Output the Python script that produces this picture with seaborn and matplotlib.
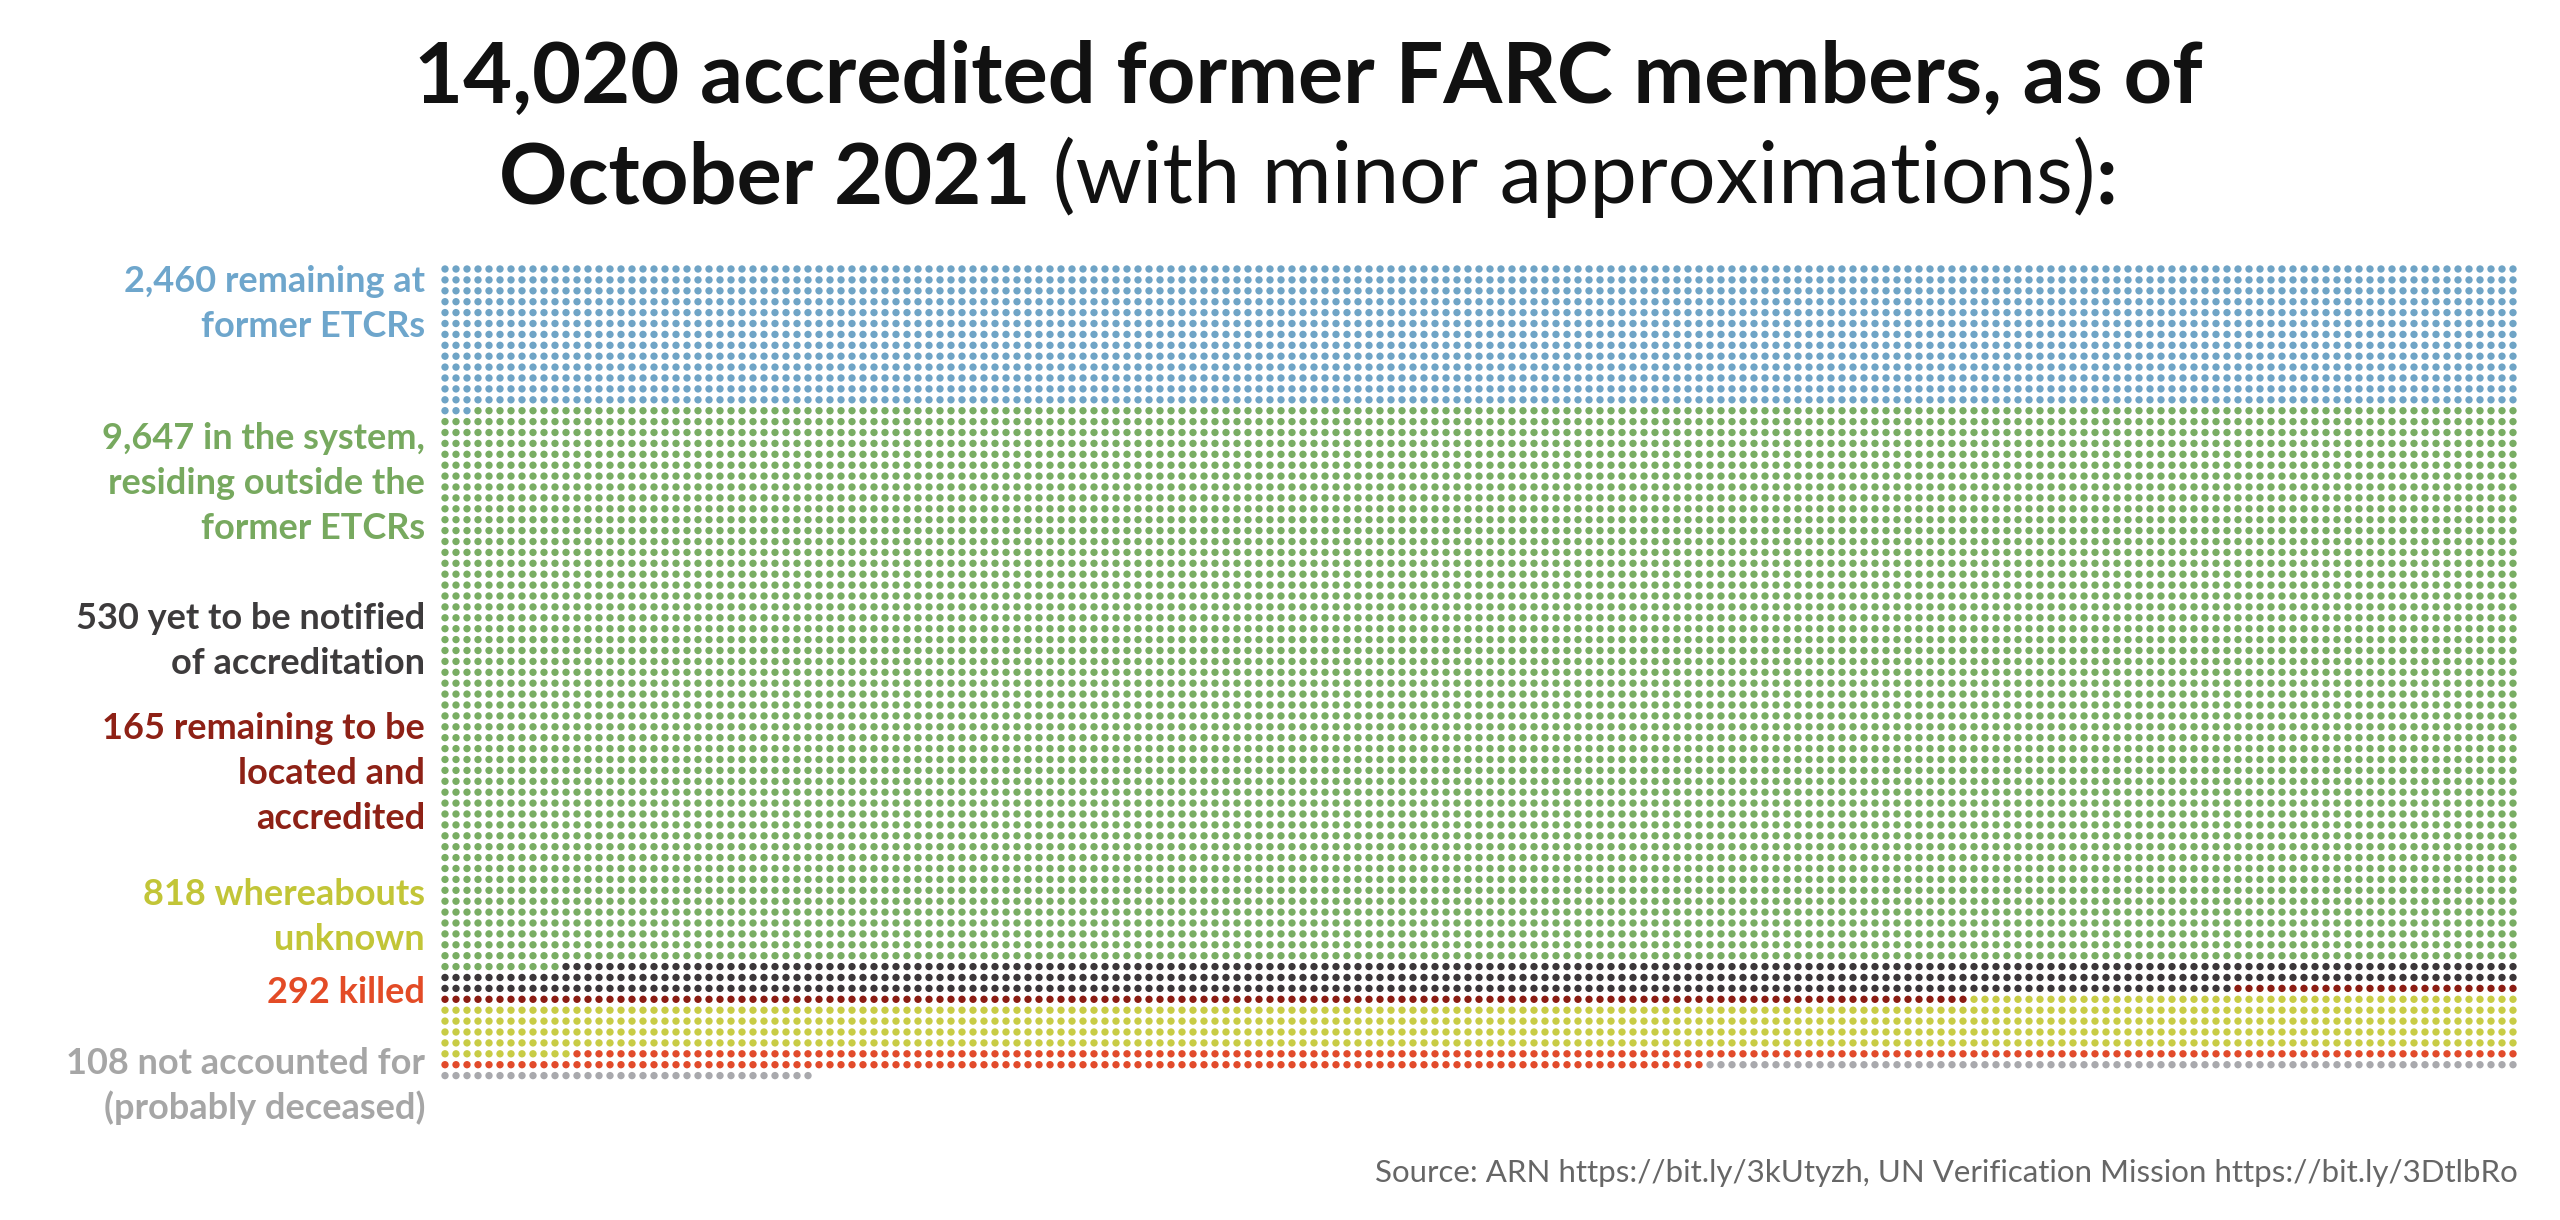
import numpy as np
import pandas as pd
import seaborn as sns
import matplotlib.pyplot as plt

# data
groups = ["remaining at former ETCRs", "in the system", "yet to be notified",
          "to be located", "whereabouts unknown", "killed", "not accounted for"]
counts = [2460, 9647, 530, 165, 818, 292, 108]
dot_colors = ["#6fa4c6", "#79ad63", "#3b3639", "#8c1c12", "#c8cc45", "#e24b2b", "#a9a9ad"]
label_lines = [
    ["2,460 remaining at", "former ETCRs"],
    ["9,647 in the system,", "residing outside the", "former ETCRs"],
    ["530 yet to be notified", "of accreditation"],
    ["165 remaining to be", "located and", "accredited"],
    ["818 whereabouts", "unknown"],
    ["292 killed"],
    ["108 not accounted for", "(probably deceased)"],
]
label_colors = ["#6ea6cc", "#77a95f", "#3d3b3c", "#8e2116", "#c2c537", "#e34b26", "#a6a6a6"]
title_line1 = "14,020 accredited former FARC members, as of"
title_line2 = [("October 2021", "bold"), (" (with minor approximations)", "normal"), (":", "bold")]
source = "Source: ARN https://bit.ly/3kUtyzh, UN Verification Mission https://bit.ly/3DtlbRo"

n_cols = 189
W, H = 2560, 1220
FONT = "Lato"

# one dot per person, filled row by row
total = sum(counts)
idx = np.arange(total)
df = pd.DataFrame({
    "col": idx % n_cols,
    "row": idx // n_cols,
    "group": np.repeat(groups, counts),
})
n_rows = df["row"].max() + 1

sns.set_style("white")
plt.rcParams["font.family"] = [FONT, "DejaVu Sans"]

fig = plt.figure(figsize=(W / 100, H / 100), dpi=100)
pitch_x, pitch_y = 11.0, 10.9
x0, y0 = 445, 269
left = x0 - pitch_x / 2
top = y0 - pitch_y / 2
ax = fig.add_axes([left / W, 1 - (top + n_rows * pitch_y) / H,
                   n_cols * pitch_x / W, n_rows * pitch_y / H])
sns.scatterplot(data=df, x="col", y="row", hue="group",
                palette=dict(zip(groups, dot_colors)), s=28, linewidth=0,
                legend=False, ax=ax)
ax.set_xlim(-0.5, n_cols - 0.5)
ax.set_ylim(n_rows - 0.5, -0.5)
ax.axis("off")


def fy(y):
    return 1 - y / H


# left labels
label_base = [292, 449, 629, 739, 905, 1003, 1074]
line_gap = 45
for lines, color, yb in zip(label_lines, label_colors, label_base):
    for i, line in enumerate(lines):
        fig.text(425 / W, fy(yb + i * line_gap), line, ha="right", va="baseline",
                 fontsize=26, fontweight="bold", color=color)

# title
cx = 1308
fig.text(cx / W, fy(103), title_line1, ha="center", va="baseline",
         fontsize=61, fontweight="bold", color="#111111")
parts = [fig.text(0, fy(203), t, ha="left", va="baseline", fontsize=61,
                  fontweight=w, color="#111111") for t, w in title_line2]
fig.canvas.draw()
r = fig.canvas.get_renderer()
widths = [p.get_window_extent(r).width for p in parts]
x = cx - sum(widths) / 2
for p, w in zip(parts, widths):
    p.set_x(x / W)
    x += w

fig.text(2518 / W, fy(1182), source, ha="right", va="baseline",
         fontsize=22.5, color="#666666")

fig.savefig("out.png", dpi=100)
